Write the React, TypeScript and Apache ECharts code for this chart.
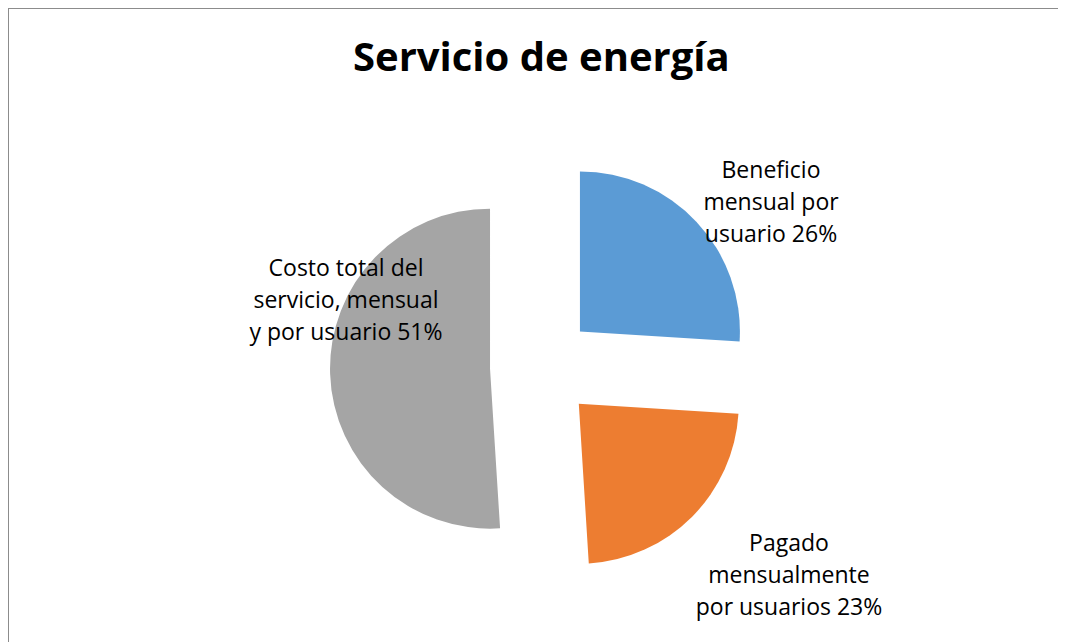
import React, { useEffect, useRef } from "react";
import * as echarts from "echarts";

const titleText = "Servicio de energía";
const categories = [
  "Beneficio\nmensual por\nusuario",
  "Pagado\nmensualmente\npor usuarios",
  "Costo total del\nservicio, mensual\ny por usuario",
];
const values = [26, 23, 51];
const colors = ["#5B9BD5", "#ED7D31", "#A5A5A5"];
const labelPos = [
  [762, 192],
  [780, 565],
  [337, 290],
];

export default function App() {
  const ref = useRef<HTMLDivElement>(null);
  useEffect(() => {
    if (!ref.current) return;
    const chart = echarts.init(ref.current, null, { renderer: "svg" });
    const total = values.reduce((a, b) => a + b, 0);
    const labels = categories.map((c, i) => ({
      type: "text",
      x: labelPos[i][0],
      y: labelPos[i][1],
      silent: true,
      style: {
        text: `${c} ${Math.round((values[i] / total) * 100)}%`,
        fontFamily: "Open Sans",
        fontSize: 23,
        lineHeight: 32,
        fill: "#000000",
        align: "center",
        verticalAlign: "middle",
      },
      z: 10,
    }));
    chart.setOption({
      animation: false,
      backgroundColor: "#ffffff",
      title: {
        text: titleText,
        left: 339,
        top: 21,
        textStyle: {
          fontFamily: "Open Sans",
          fontWeight: "bold",
          fontSize: 40,
          color: "#000000",
        },
      },
      graphic: labels,
      series: [
        {
          type: "pie",
          center: [533, 358],
          radius: 160,
          startAngle: 90,
          clockwise: true,
          selectedMode: "multiple",
          selectedOffset: 52,
          emphasis: { disabled: true },
          select: { itemStyle: { borderWidth: 0 } },
          itemStyle: { borderWidth: 0 },
          label: { show: false },
          labelLine: { show: false },
          data: categories.map((c, i) => ({
            name: c,
            value: values[i],
            selected: true,
            itemStyle: { color: colors[i] },
            select: { itemStyle: { color: colors[i] } },
          })),
        },
      ],
    });
    return () => chart.dispose();
  }, []);
  return (
    <div
      ref={ref}
      style={{
        width: 1058,
        height: 660,
        border: "1px solid #8c8c8c",
        boxSizing: "content-box",
      }}
    />
  );
}
